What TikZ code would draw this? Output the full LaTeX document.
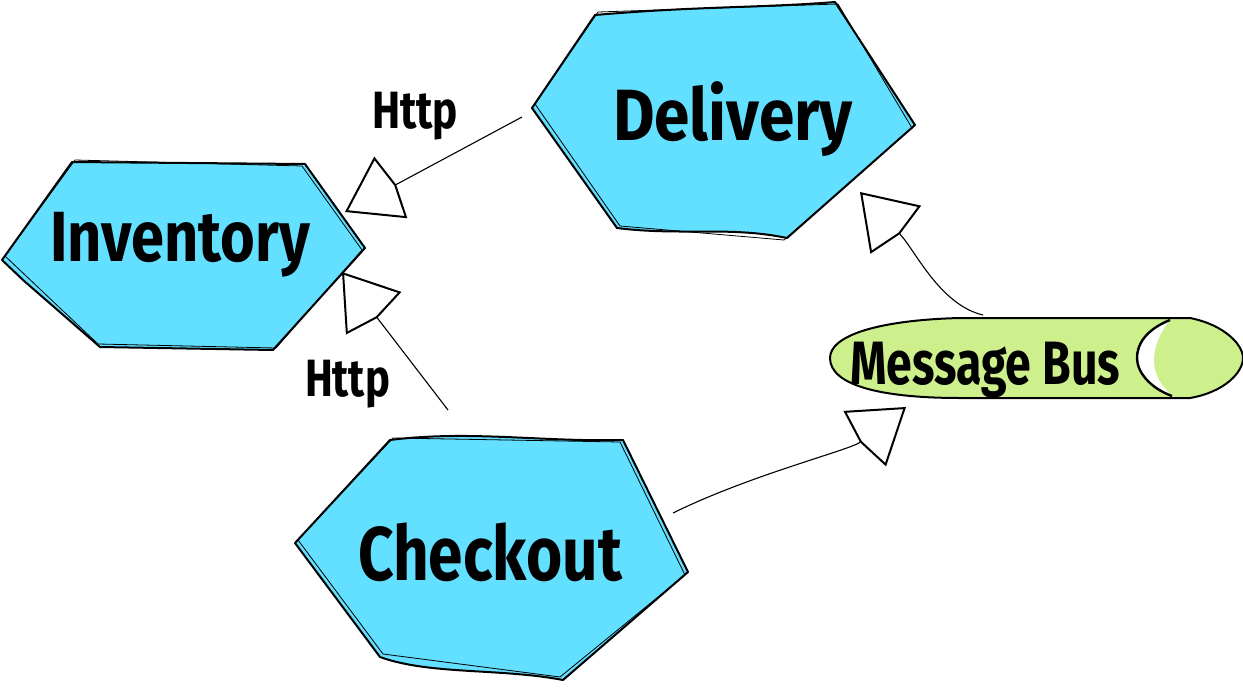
\documentclass[tikz,border=0pt]{standalone}
\usepackage{fontspec}
\setmainfont{Fira Sans}
\usetikzlibrary{arrows.meta,calc}
\definecolor{hexblue}{RGB}{99,223,255}
\definecolor{busgreen}{RGB}{205,240,140}
\newcommand{\fitlbl}[3]{\resizebox*{#1}{#2}{\bfseries #3}}
\begin{document}
\begin{tikzpicture}[x=1pt,y=-1pt,
  hexshape/.style={fill=hexblue, draw=black, line width=2pt, line join=round},
  sketch/.style={draw=black, line width=0.8pt, line join=round},
  lbl/.style={anchor=north west, inner sep=0pt, outer sep=0pt},
  conn/.style={draw=black, line width=1.1pt,
    -{Kite[length=58pt,width=70pt,inset=6pt,fill=white,line width=2pt]}},
]
\useasboundingbox (0,0) rectangle (1243,688);

% Delivery hexagon
\path[hexshape] (532,108) -- (595,15) .. controls (700,6) and (760,8) .. (835,2)
  -- (915,125) -- (787,238) .. controls (730,226) and (680,236) .. (617,228) -- cycle;
\path[sketch] (535,104) -- (598,12) -- (838,4) -- (912,128) -- (784,240) -- (620,226) -- cycle;

% Inventory hexagon
\path[hexshape] (2,260) -- (72,162) -- (305,164) -- (365,248) -- (273,350)
  -- (100,347) -- (23,280) -- cycle;
\path[sketch] (5,256) -- (75,160) -- (302,166) -- (362,250) -- (276,348) -- (98,344) -- cycle;

% Checkout hexagon
\path[hexshape] (295,543) -- (390,440) .. controls (470,430) and (540,442) .. (623,440)
  -- (688,572) -- (563,680) .. controls (500,668) and (430,675) .. (380,657) -- cycle;
\path[sketch] (298,540) -- (393,438) -- (620,442) -- (685,575) -- (560,677) -- (383,654) -- cycle;

% Message Bus cylinder
\fill[busgreen] (960,318) -- (1190,318) .. controls (1225,325) and (1243,345) .. (1243,358)
  .. controls (1243,372) and (1225,392) .. (1190,398) -- (960,398)
  .. controls (880,398) and (830,385) .. (830,358) .. controls (830,335) and (880,320) .. (960,318) -- cycle;
\fill[white] (1170,320) .. controls (1145,330) and (1137,345) .. (1137,358)
  .. controls (1137,372) and (1150,388) .. (1172,396)
  .. controls (1160,385) and (1153,372) .. (1154,358)
  .. controls (1155,342) and (1162,330) .. (1170,320) -- cycle;
\draw[line width=2pt, line join=round] (960,318) -- (1190,318) .. controls (1225,325) and (1243,345) .. (1243,358)
  .. controls (1243,372) and (1225,392) .. (1190,398) -- (960,398)
  .. controls (880,398) and (830,385) .. (830,358) .. controls (830,335) and (880,320) .. (960,318) -- cycle;
\draw[line width=2.4pt] (1170,320) .. controls (1145,330) and (1137,345) .. (1137,358)
  .. controls (1137,372) and (1150,388) .. (1172,396);

% Labels
\node[lbl] (delivery) at (613,82) {\fitlbl{240pt}{75pt}{Delivery}};
\node[lbl] (inventory) at (50,212) {\fitlbl{260pt}{65pt}{Inventory}};
\node[lbl] (checkout) at (358,523) {\fitlbl{264pt}{59pt}{Checkout}};
\node[lbl] (bus) at (850,342) {\fitlbl{270pt}{56pt}{Message Bus}};
\node[lbl] (http1) at (372,92) {\fitlbl{86pt}{48pt}{Http}};
\node[lbl] (http2) at (305,360) {\fitlbl{85pt}{48pt}{Http}};

% Connector end points on the shape borders
\coordinate (deliveryW) at (522,117);
\coordinate (inventoryNE) at (345,212);
\coordinate (checkoutN) at (448,410);
\coordinate (inventoryE) at (342,272);
\coordinate (checkoutE) at (673,513);
\coordinate (busSW) at (906,407);
\coordinate (busN) at (983,315);
\coordinate (deliverySE) at (860,192);

\draw[conn] (deliveryW) -- (inventoryNE);
\draw[conn] (checkoutN) -- (inventoryE);
\draw[conn] (checkoutE) .. controls (750,475) and (850,450) .. (busSW);
\draw[conn] (busN) .. controls (940,305) and (915,250) .. (deliverySE);
\end{tikzpicture}
\end{document}
